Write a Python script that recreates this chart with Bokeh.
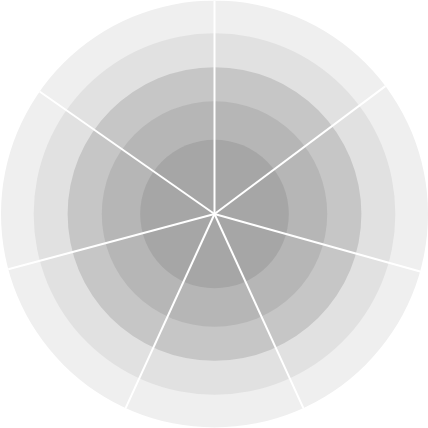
from bokeh.plotting import figure
from bokeh.models import ColumnDataSource, Range1d
from bokeh.embed import file_html
from bokeh.resources import INLINE

# Ring levels (outer edge of each band, on a 0-100 radial scale), outer to inner
ring_levels = [100, 84.7, 68.8, 52.8, 34.8]
ring_colors = ["#efefef", "#e1e1e1", "#c6c6c6", "#b6b6b6", "#a6a6a6"]

# Spoke directions (degrees, counter-clockwise from east)
spoke_angles = [90, 36.8, -15.6, -65.4, -114.6, -165.0, 145.0]

scale = 2.135  # px per unit
p = figure(width=428, height=428, output_backend="svg", toolbar_location=None,
           x_range=Range1d(-214 / scale, 214 / scale),
           y_range=Range1d(-214.5 / scale, 213.5 / scale),
           min_border=0, background_fill_color="white", border_fill_color="white")
p.axis.visible = False
p.grid.visible = False
p.outline_line_color = None

rings = ColumnDataSource(dict(x=[0] * len(ring_levels), y=[0] * len(ring_levels),
                              r=ring_levels, c=ring_colors))
p.circle(x="x", y="y", radius="r", fill_color="c", line_color=None, source=rings)

spokes = ColumnDataSource(dict(x=[0] * len(spoke_angles), y=[0] * len(spoke_angles),
                               a=spoke_angles))
p.ray(x="x", y="y", length=ring_levels[0], angle="a", angle_units="deg",
      line_color="white", line_width=2, source=spokes)

open("out.html", "w").write(file_html(p, INLINE))
